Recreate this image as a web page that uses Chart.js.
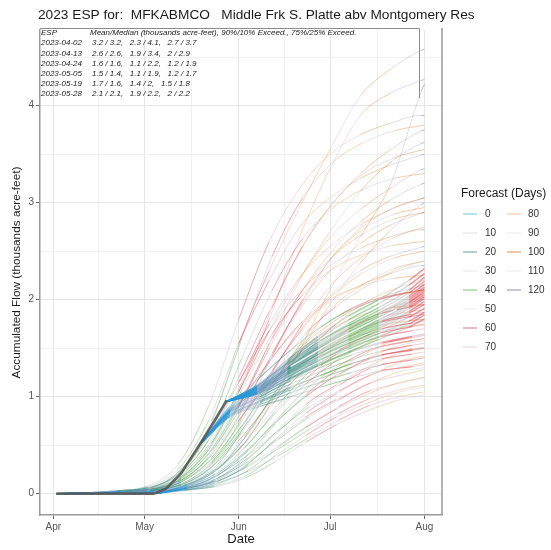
<!DOCTYPE html>
<html>
<head>
<meta charset="utf-8">
<script src="https://cdn.jsdelivr.net/npm/chart.js@4.4.0/dist/chart.umd.min.js"></script>
<style>
  html, body { margin: 0; padding: 0; background: #fff; }
</style>
</head>
<body>
<canvas id="esp-chart" width="551" height="550"></canvas>
<script>
// days counted from Apr 1 (Apr 2 = 1, May 1 = 30, Jun 1 = 61, Jul 1 = 91, Aug 1 = 122)
const monthDays = [0, 30, 61, 91, 122];
const monthLabels = ['Apr', 'May', 'Jun', 'Jul', 'Aug'];
const xGridDays = [0, 15, 30, 45.5, 61, 76, 91, 106.5, 122];
const yGridValues = [0, 0.5, 1, 1.5, 2, 2.5, 3, 3.5, 4, 4.5];

const forecastDays = [0, 10, 20, 30, 40, 50, 60, 70, 80, 90, 100, 110, 120];

const issueDates = ['2023-04-02', '2023-04-13', '2023-04-24', '2023-05-05', '2023-05-19', '2023-05-28'];
const issueStats = [
  '3.2 / 3.2,   2.3 / 4.1,   2.7 / 3.7',
  '2.6 / 2.6,   1.9 / 3.4,   2 / 2.9',
  '1.6 / 1.6,   1.1 / 2.2,   1.2 / 1.9',
  '1.5 / 1.4,   1.1 / 1.9,   1.2 / 1.7',
  '1.7 / 1.6,   1.4 / 2,   1.5 / 1.8',
  '2.1 / 2.1,   1.9 / 2.2,   2 / 2.2'
];

// observed accumulated flow (thousands acre-feet)
const obsDays = [1, 33, 37, 42, 47, 52, 57];
const obsFlow = [0, 0, 0.05, 0.21, 0.45, 0.7, 0.96];

// ESP traces: every 10 days from the issue date, last point Aug 1
const days0402 = [1, 11, 21, 31, 41, 51, 61, 71, 81, 91, 101, 111, 121, 122];
const esp0402 = [
  [0, 0.01, 0.03, 0.06, 0.22, 0.65, 1.55, 2.3, 2.95, 3.55, 4.1, 4.38, 4.57, 4.58],
  [0, 0.01, 0.02, 0.04, 0.15, 0.45, 1.05, 1.8, 2.65, 3.35, 3.9, 4.13, 4.26, 4.27],
  [0, 0, 0.01, 0.02, 0.07, 0.2, 0.45, 0.9, 1.48, 2.1, 2.65, 3.2, 4.15, 4.22],
  [0, 0.01, 0.03, 0.08, 0.3, 0.9, 1.8, 2.6, 3.15, 3.5, 3.7, 3.82, 3.9, 3.9],
  [0, 0.01, 0.03, 0.06, 0.19, 0.55, 1.2, 1.88, 2.5, 2.96, 3.3, 3.55, 3.74, 3.75],
  [0, 0.01, 0.02, 0.04, 0.12, 0.38, 0.9, 1.55, 2.2, 2.7, 3.12, 3.42, 3.61, 3.62],
  [0, 0.01, 0.03, 0.07, 0.25, 0.75, 1.55, 2.2, 2.75, 3.05, 3.25, 3.39, 3.49, 3.5],
  [0, 0.01, 0.02, 0.05, 0.17, 0.5, 1.05, 1.68, 2.22, 2.64, 2.93, 3.15, 3.34, 3.35],
  [0, 0.01, 0.02, 0.04, 0.14, 0.41, 0.9, 1.5, 2.05, 2.48, 2.8, 3.03, 3.19, 3.2],
  [0, 0.01, 0.02, 0.05, 0.18, 0.55, 1.15, 1.75, 2.23, 2.55, 2.77, 2.93, 3.04, 3.05],
  [0, 0, 0.01, 0.03, 0.08, 0.25, 0.55, 0.95, 1.45, 1.95, 2.38, 2.72, 2.98, 3.0],
  [0, 0.01, 0.02, 0.04, 0.12, 0.37, 0.82, 1.38, 1.9, 2.3, 2.58, 2.77, 2.89, 2.9],
  [0, 0.01, 0.02, 0.06, 0.2, 0.6, 1.15, 1.68, 2.08, 2.35, 2.53, 2.65, 2.72, 2.72],
  [0, 0, 0.02, 0.04, 0.11, 0.33, 0.75, 1.22, 1.68, 2.04, 2.3, 2.45, 2.54, 2.55],
  [0, 0.01, 0.02, 0.04, 0.15, 0.45, 0.92, 1.36, 1.73, 1.98, 2.15, 2.27, 2.35, 2.35],
  [0, 0, 0.02, 0.04, 0.12, 0.36, 0.76, 1.15, 1.5, 1.75, 1.93, 2.06, 2.14, 2.15]
];
const days0413 = [12, 22, 32, 42, 52, 62, 72, 82, 92, 102, 112, 122];
const esp0413 = [
  [0, 0.02, 0.06, 0.25, 0.75, 1.6, 2.45, 3.05, 3.42, 3.62, 3.74, 3.8],
  [0, 0.01, 0.04, 0.16, 0.52, 1.15, 1.92, 2.55, 3.0, 3.3, 3.46, 3.55],
  [0, 0.02, 0.06, 0.23, 0.65, 1.4, 2.1, 2.63, 2.95, 3.14, 3.25, 3.3],
  [0, 0.01, 0.03, 0.12, 0.37, 0.85, 1.45, 1.98, 2.45, 2.76, 2.95, 3.05],
  [0, 0.01, 0.03, 0.1, 0.32, 0.78, 1.42, 2.0, 2.45, 2.73, 2.88, 2.95],
  [0, 0.01, 0.04, 0.15, 0.46, 0.98, 1.6, 2.1, 2.45, 2.68, 2.83, 2.9],
  [0, 0.01, 0.03, 0.1, 0.31, 0.7, 1.25, 1.75, 2.17, 2.45, 2.64, 2.75],
  [0, 0.02, 0.05, 0.18, 0.52, 1.07, 1.65, 2.05, 2.32, 2.47, 2.56, 2.6],
  [0, 0.01, 0.03, 0.12, 0.35, 0.75, 1.27, 1.7, 2.05, 2.28, 2.43, 2.5],
  [0, 0.01, 0.03, 0.09, 0.28, 0.63, 1.13, 1.57, 1.93, 2.16, 2.32, 2.4],
  [0, 0.02, 0.04, 0.15, 0.44, 0.9, 1.4, 1.78, 2.02, 2.15, 2.22, 2.25],
  [0, 0.01, 0.03, 0.1, 0.3, 0.65, 1.1, 1.48, 1.77, 1.95, 2.05, 2.1],
  [0, 0.01, 0.03, 0.12, 0.33, 0.7, 1.14, 1.48, 1.71, 1.85, 1.92, 1.95],
  [0, 0.01, 0.02, 0.07, 0.22, 0.5, 0.92, 1.26, 1.53, 1.69, 1.76, 1.8]
];
const days0424 = [23, 33, 43, 53, 63, 73, 83, 93, 103, 113, 122];
const esp0424 = [
  [0, 0.03, 0.1, 0.3, 0.73, 1.25, 1.65, 1.93, 2.14, 2.31, 2.4],
  [0, 0.02, 0.08, 0.23, 0.58, 1.05, 1.45, 1.75, 1.98, 2.12, 2.2],
  [0, 0.02, 0.08, 0.25, 0.6, 1.02, 1.35, 1.6, 1.8, 1.94, 2.0],
  [0, 0.01, 0.06, 0.18, 0.47, 0.85, 1.18, 1.44, 1.63, 1.78, 1.85],
  [0, 0.02, 0.07, 0.2, 0.48, 0.83, 1.13, 1.37, 1.55, 1.69, 1.75],
  [0, 0.01, 0.05, 0.14, 0.37, 0.72, 1.02, 1.27, 1.45, 1.59, 1.65],
  [0, 0.02, 0.06, 0.17, 0.41, 0.74, 1.0, 1.22, 1.39, 1.52, 1.58],
  [0, 0.01, 0.05, 0.13, 0.33, 0.63, 0.92, 1.12, 1.3, 1.44, 1.5],
  [0, 0.01, 0.04, 0.11, 0.28, 0.56, 0.83, 1.03, 1.2, 1.34, 1.4],
  [0, 0.01, 0.05, 0.13, 0.29, 0.55, 0.79, 0.97, 1.12, 1.25, 1.3],
  [0, 0.01, 0.04, 0.09, 0.22, 0.45, 0.68, 0.87, 1.02, 1.14, 1.2],
  [0, 0.01, 0.03, 0.08, 0.18, 0.39, 0.6, 0.79, 0.93, 1.04, 1.1],
  [0, 0.01, 0.04, 0.07, 0.16, 0.33, 0.53, 0.71, 0.85, 0.96, 1.02]
];
const days0505 = [34, 44, 54, 64, 74, 84, 94, 104, 114, 122];
const esp0505 = [
  [0, 0.1, 0.3, 0.75, 1.22, 1.6, 1.84, 1.99, 2.06, 2.1],
  [0, 0.08, 0.25, 0.62, 1.05, 1.41, 1.64, 1.8, 1.86, 1.9],
  [0, 0.09, 0.25, 0.56, 0.92, 1.25, 1.48, 1.64, 1.71, 1.75],
  [0, 0.06, 0.19, 0.45, 0.78, 1.1, 1.32, 1.48, 1.55, 1.6],
  [0, 0.08, 0.21, 0.46, 0.76, 1.03, 1.23, 1.39, 1.46, 1.5],
  [0, 0.06, 0.16, 0.37, 0.64, 0.92, 1.12, 1.29, 1.37, 1.42],
  [0, 0.07, 0.19, 0.4, 0.65, 0.89, 1.06, 1.22, 1.3, 1.35],
  [0, 0.06, 0.16, 0.33, 0.56, 0.79, 0.97, 1.14, 1.22, 1.28],
  [0, 0.05, 0.13, 0.29, 0.49, 0.71, 0.9, 1.06, 1.14, 1.2],
  [0, 0.06, 0.13, 0.28, 0.46, 0.66, 0.83, 0.98, 1.07, 1.12],
  [0, 0.04, 0.11, 0.23, 0.39, 0.58, 0.76, 0.91, 1.0, 1.05]
];
const days0519 = [48, 58, 68, 78, 88, 98, 108, 118, 122];
const esp0519 = [
  [0.5, 0.9, 1.2, 1.48, 1.72, 1.9, 2.01, 2.08, 2.1],
  [0.5, 0.88, 1.13, 1.37, 1.58, 1.75, 1.86, 1.93, 1.95],
  [0.5, 0.85, 1.08, 1.3, 1.5, 1.66, 1.78, 1.85, 1.87],
  [0.5, 0.87, 1.1, 1.32, 1.51, 1.66, 1.77, 1.83, 1.85],
  [0.5, 0.86, 1.07, 1.27, 1.45, 1.6, 1.7, 1.76, 1.78],
  [0.5, 0.86, 1.06, 1.25, 1.42, 1.56, 1.66, 1.72, 1.74],
  [0.5, 0.85, 1.04, 1.22, 1.38, 1.52, 1.62, 1.68, 1.7],
  [0.5, 0.84, 1.02, 1.19, 1.34, 1.47, 1.56, 1.62, 1.64],
  [0.5, 0.83, 1.0, 1.17, 1.33, 1.46, 1.55, 1.61, 1.63],
  [0.5, 0.84, 1.0, 1.16, 1.3, 1.43, 1.52, 1.58, 1.6],
  [0.5, 0.83, 0.98, 1.13, 1.26, 1.38, 1.47, 1.53, 1.55],
  [0.5, 0.82, 0.96, 1.1, 1.22, 1.34, 1.43, 1.48, 1.5],
  [0.5, 0.81, 0.95, 1.09, 1.22, 1.34, 1.43, 1.49, 1.51],
  [0.5, 0.81, 0.94, 1.07, 1.19, 1.3, 1.39, 1.44, 1.46],
  [0.5, 0.8, 0.92, 1.04, 1.15, 1.25, 1.33, 1.38, 1.4],
  [0.5, 0.79, 0.9, 1.0, 1.1, 1.19, 1.27, 1.31, 1.33]
];
const days0528 = [57, 67, 77, 87, 97, 107, 117, 122];
const esp0528 = [
  [0.95, 1.12, 1.38, 1.62, 1.83, 2.0, 2.2, 2.32],
  [0.95, 1.11, 1.36, 1.59, 1.79, 1.96, 2.15, 2.27],
  [0.95, 1.1, 1.34, 1.56, 1.75, 1.92, 2.1, 2.23],
  [0.95, 1.1, 1.33, 1.54, 1.73, 1.89, 2.07, 2.19],
  [0.95, 1.09, 1.31, 1.52, 1.71, 1.86, 2.04, 2.16],
  [0.95, 1.09, 1.3, 1.51, 1.69, 1.84, 2.02, 2.13],
  [0.95, 1.08, 1.29, 1.5, 1.67, 1.82, 2.0, 2.11],
  [0.95, 1.08, 1.28, 1.49, 1.66, 1.81, 1.98, 2.09],
  [0.95, 1.07, 1.28, 1.48, 1.65, 1.8, 1.97, 2.07],
  [0.95, 1.07, 1.27, 1.47, 1.64, 1.79, 1.95, 2.05],
  [0.95, 1.06, 1.26, 1.46, 1.62, 1.77, 1.93, 2.03],
  [0.95, 1.06, 1.25, 1.44, 1.61, 1.75, 1.91, 2.01],
  [0.95, 1.05, 1.24, 1.43, 1.59, 1.73, 1.88, 1.98],
  [0.95, 1.05, 1.23, 1.41, 1.57, 1.71, 1.86, 1.95],
  [0.95, 1.04, 1.22, 1.39, 1.55, 1.68, 1.82, 1.91],
  [0.95, 1.04, 1.2, 1.37, 1.52, 1.65, 1.78, 1.87],
  [0.95, 1.03, 1.18, 1.34, 1.49, 1.62, 1.75, 1.84],
  [0.95, 1.03, 1.17, 1.32, 1.46, 1.59, 1.72, 1.8]
];

// light line through the latest bundle
const midDays = [78, 85, 92, 99, 106, 113];
const midFlow = [1.31, 1.44, 1.57, 1.68, 1.79, 1.9];

const allIssues = [
  [days0402, esp0402], [days0413, esp0413], [days0424, esp0424],
  [days0505, esp0505], [days0519, esp0519], [days0528, esp0528]
];

// ---- styles ----
const lineColors = [
  'rgba(40,150,215,0.55)', 'rgba(110,150,190,0.36)', 'rgba(60,140,130,0.5)',
  'rgba(130,160,140,0.34)', 'rgba(80,170,70,0.5)', 'rgba(150,150,150,0.34)',
  'rgba(220,50,60,0.5)', 'rgba(210,130,140,0.36)', 'rgba(240,165,95,0.55)',
  'rgba(180,160,170,0.34)', 'rgba(225,130,50,0.5)', 'rgba(150,135,185,0.36)',
  'rgba(110,90,160,0.6)'
];
const legendColors = [
  'rgba(110,210,225,0.85)', 'rgba(200,200,210,0.4)', 'rgba(80,150,140,0.7)',
  'rgba(210,210,210,0.4)', 'rgba(120,190,110,0.75)', 'rgba(220,220,220,0.4)',
  'rgba(210,120,140,0.8)', 'rgba(230,185,195,0.55)', 'rgba(240,190,140,0.8)',
  'rgba(220,210,210,0.4)', 'rgba(220,150,90,0.8)', 'rgba(215,215,220,0.4)',
  'rgba(150,140,180,0.8)'
];
const traceWidths = [0.8, 0.8, 0.8, 0.8, 1.1, 1.5];
const FONT = '"Liberation Sans", Arial, Helvetica, sans-serif';

function leadColor(lead) {
  const i = Math.max(0, Math.min(forecastDays.length - 1, Math.floor(lead / 10)));
  return lineColors[i];
}

const datasets = [];
datasets.push({
  data: obsDays.map((d, i) => ({x: d, y: obsFlow[i]})),
  borderColor: 'rgba(85,85,85,0.9)', borderWidth: 2.6, pointRadius: 0,
  tension: 0, order: 1
});
datasets.push({
  data: midDays.map((d, i) => ({x: d, y: midFlow[i]})),
  borderColor: 'rgba(255,255,255,0.85)', borderWidth: 1.6, pointRadius: 0,
  cubicInterpolationMode: 'monotone', order: 2
});
allIssues.forEach(([days, traces], k) => {
  const issueDay = days[0];
  traces.forEach(vals => {
    datasets.push({
      data: vals.map((v, i) => ({x: days[i], y: v})),
      borderColor: lineColors[0], borderWidth: traceWidths[k], pointRadius: 0,
      cubicInterpolationMode: 'monotone',
      segment: {
        borderColor: ctx => leadColor(ctx.p0.parsed.x - issueDay + 0.5)
      },
      order: 20 - k
    });
  });
});

const decorations = {
  id: 'decorations',
  afterDraw(chart) {
    const {ctx, chartArea: a} = chart;
    ctx.save();
    // right border of the panel
    ctx.strokeStyle = '#9a9a9a';
    ctx.lineWidth = 1.5;
    ctx.beginPath();
    ctx.moveTo(a.right, a.top - 2);
    ctx.lineTo(a.right, a.bottom);
    ctx.stroke();

    // title
    ctx.fillStyle = '#1a1a1a';
    ctx.textBaseline = 'middle';
    ctx.textAlign = 'left';
    ctx.font = '13.7px ' + FONT;
    ctx.fillText('2023 ESP for:  MFKABMCO   Middle Frk S. Platte abv Montgomery Res', 38, 15);

    // axis titles
    ctx.font = '13px ' + FONT;
    ctx.textAlign = 'center';
    ctx.fillText('Date', (a.left + a.right) / 2, 539);
    ctx.save();
    ctx.translate(17, (a.top + a.bottom) / 2);
    ctx.rotate(-Math.PI / 2);
    ctx.font = '11.8px ' + FONT;
    ctx.fillText('Accumulated Flow (thousands acre-feet)', 0, 0);
    ctx.restore();

    // ESP summary box
    ctx.strokeStyle = '#8c8c8c';
    ctx.lineWidth = 1;
    ctx.beginPath();
    ctx.moveTo(a.left, 28.5);
    ctx.lineTo(419.5, 28.5);
    ctx.lineTo(419.5, 98);
    ctx.stroke();
    ctx.textAlign = 'left';
    ctx.fillStyle = '#222';
    ctx.font = 'italic 8px ' + FONT;
    const rowY = 33, rowStep = 10.2;
    ctx.fillText('ESP', 41, rowY);
    ctx.fillText('Mean/Median (thousands acre-feet), 90%/10% Exceed., 75%/25% Exceed.', 90, rowY);
    issueDates.forEach((d, i) => {
      ctx.fillText(d, 41, rowY + rowStep * (i + 1));
      ctx.fillText(issueStats[i], 92, rowY + rowStep * (i + 1));
    });

    // legend
    ctx.fillStyle = '#1a1a1a';
    ctx.font = '12px ' + FONT;
    ctx.fillText('Forecast (Days)', 461, 194);
    ctx.font = '10px ' + FONT;
    ctx.fillStyle = '#333';
    forecastDays.forEach((f, i) => {
      const col = i < 8 ? 0 : 1;
      const row = i < 8 ? i : i - 8;
      const y = 214 + row * 19;
      const kx = col === 0 ? 463 : 507;
      ctx.strokeStyle = legendColors[i];
      ctx.lineWidth = 1.3;
      ctx.beginPath();
      ctx.moveTo(kx, y);
      ctx.lineTo(kx + 14, y);
      ctx.stroke();
      ctx.fillText(String(f), col === 0 ? 485 : 528, y);
    });
    ctx.restore();
  }
};

new Chart(document.getElementById('esp-chart'), {
  type: 'line',
  data: { datasets: datasets },
  options: {
    responsive: false,
    animation: false,
    events: [],
    layout: { padding: { top: 30, right: 109, left: 0, bottom: 0 } },
    plugins: { legend: { display: false }, tooltip: { enabled: false }, title: { display: false } },
    scales: {
      x: {
        type: 'linear', min: -4.4, max: 127.8,
        afterBuildTicks: s => { s.ticks = xGridDays.map(v => ({value: v})); },
        afterFit: s => { s.height = 35; },
        ticks: {
          autoSkip: false, maxRotation: 0, padding: 2,
          font: { size: 10, family: FONT }, color: '#555',
          callback: v => { const i = monthDays.indexOf(v); return i >= 0 ? monthLabels[i] : ''; }
        },
        grid: {
          color: c => monthDays.includes(c.tick.value) ? '#e6e6e6' : '#f0f0f0',
          tickColor: c => monthDays.includes(c.tick.value) ? '#666' : 'rgba(0,0,0,0)',
          tickLength: 4
        },
        border: { display: true, color: '#9a9a9a', width: 1.5 }
      },
      y: {
        type: 'linear', min: -0.22, max: 4.78,
        afterBuildTicks: s => { s.ticks = yGridValues.map(v => ({value: v})); },
        afterFit: s => { s.width = 40; },
        ticks: {
          autoSkip: false, padding: 2,
          font: { size: 10, family: FONT }, color: '#555',
          callback: v => Number.isInteger(v) ? String(v) : ''
        },
        grid: {
          color: c => Number.isInteger(c.tick.value) ? '#e6e6e6' : '#f0f0f0',
          tickColor: c => Number.isInteger(c.tick.value) ? '#666' : 'rgba(0,0,0,0)',
          tickLength: 4
        },
        border: { display: true, color: '#9a9a9a', width: 1.5 }
      }
    }
  },
  plugins: [decorations]
});
</script>
</body>
</html>
